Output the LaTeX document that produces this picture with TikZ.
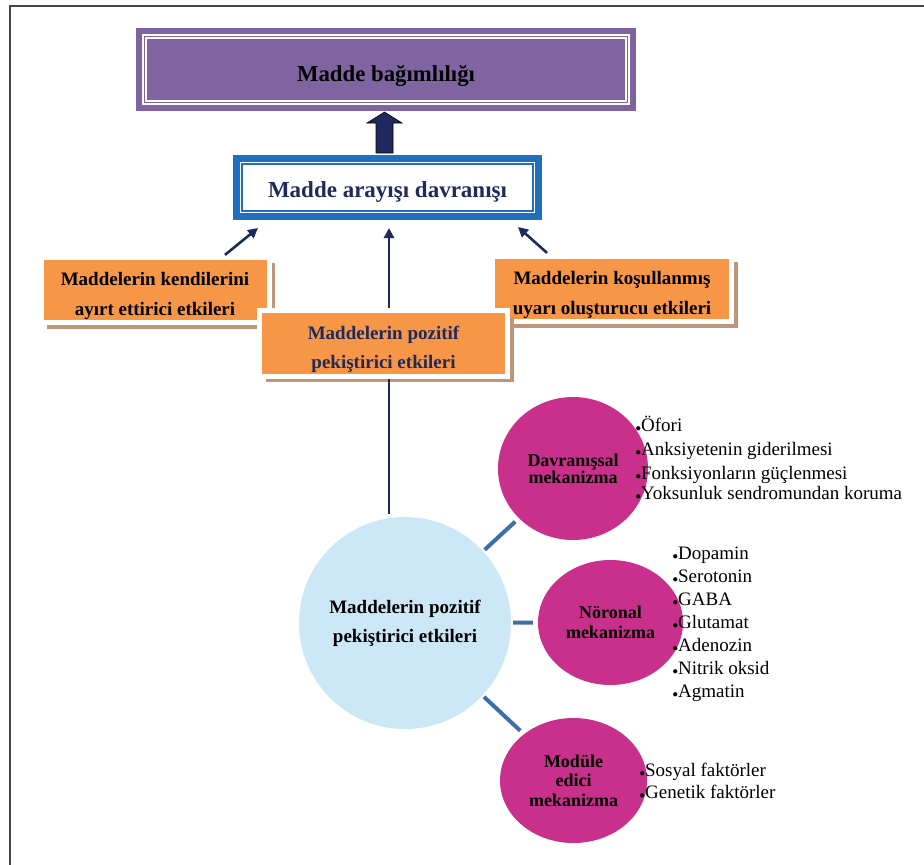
\documentclass[tikz,border=0pt]{standalone}
\usepackage{fontspec}
\setmainfont{Liberation Serif}
\usetikzlibrary{arrows.meta,shapes.geometric,shadows}

\definecolor{boxpurple}{RGB}{128,100,162}
\definecolor{boxblue}{RGB}{30,112,190}
\definecolor{navy}{RGB}{31,42,92}
\definecolor{boxorange}{RGB}{247,150,70}
\definecolor{shadowtan}{RGB}{192,150,120}
\definecolor{circleblue}{RGB}{204,232,246}
\definecolor{mechmagenta}{RGB}{200,48,140}
\definecolor{linkblue}{RGB}{62,110,168}
\definecolor{framegray}{RGB}{70,70,70}

\newcommand{\blt}{{\fontsize{11pt}{11pt}\selectfont$\bullet$}}
\newcommand{\topstrut}{\rule{0pt}{25pt}}

\begin{document}
\begin{tikzpicture}[x=1pt, y=-1pt,
    mainbox/.style={fill=boxpurple, minimum width=500pt, minimum height=83pt, font=\bfseries\fontsize{22.8pt}{26pt}\selectfont, text height=24pt, text depth=0pt,
        path picture={\draw[white, line width=1.6pt, double=boxpurple, double distance=1.2pt] ([shift={(8.5pt,-8.5pt)}]path picture bounding box.north west) rectangle ([shift={(-8.5pt,8.5pt)}]path picture bounding box.south east);}},
    seekbox/.style={draw=boxblue, line width=7pt, fill=white, minimum width=302pt, minimum height=58pt, text=navy, font=\bfseries\fontsize{23pt}{27pt}\selectfont, text height=19pt, text depth=0pt,
        path picture={\draw[boxblue, line width=1.3pt] ([shift={(5.5pt,-5.5pt)}]path picture bounding box.north west) rectangle ([shift={(-5.5pt,5.5pt)}]path picture bounding box.south east);}},
    effectbox/.style={fill=boxorange, draw=white, line width=5pt, align=center, font=\bfseries\fontsize{19pt}{29.5pt}\selectfont,
        drop shadow={shadow xshift=6pt, shadow yshift=-6pt, fill=shadowtan, opacity=1}},
    posnode/.style={circle, fill=circleblue, minimum size=212pt, align=center, font=\bfseries\fontsize{19pt}{29pt}\selectfont},
    mech/.style={ellipse, fill=mechmagenta, inner sep=0pt, align=center, font=\bfseries\fontsize{18pt}{19.5pt}\selectfont},
    item/.style={anchor=base west, inner sep=0pt, font=\fontsize{19pt}{22pt}\selectfont},
    arr/.style={draw=navy, line width=2.6pt, -{Triangle[length=10pt,width=10pt]}},
    stem/.style={draw=navy, line width=2.6pt},
    link/.style={draw=linkblue, line width=4pt, shorten <=2pt, shorten >=5pt}]
    \useasboundingbox (0,0) rectangle (924,865);
    \draw[framegray, line width=2pt] (10,865) -- (10,5.5) -- (924,5.5);

    \node[mainbox] (addict) at (386,69.5) {Madde bağımlılığı};
    \fill[navy, draw=black, line width=0.6pt] (376,153) -- (376,123) -- (367,123) -- (384.5,112) -- (402,123) -- (393,123) -- (393,153) -- cycle;
    \node[seekbox] (seek) at (387.5,187.5) {Madde arayışı davranışı};

    \node[effectbox, minimum width=228pt, minimum height=65pt] (kend) at (155,290) {\topstrut Maddelerin kendilerini\\ayırt ettirici etkileri};
    \node[effectbox, minimum width=239pt, minimum height=65pt] (kosul) at (612,289) {\topstrut Maddelerin koşullanmış\\uyarı oluşturucu etkileri};
    \node[effectbox, minimum width=248pt, minimum height=64pt, text=navy] (poz) at (383.5,343.5) {\topstrut Maddelerin pozitif\\pekiştirici etkileri};

    \coordinate (spine) at (389,514);
    \draw[arr, shorten >=8pt] (spine |- poz.north) -- (spine |- seek.south);
    \draw[arr] ([shift={(-46.5pt,0pt)}]kend.north east) -- ([shift={(25pt,-8pt)}]seek.south west);
    \draw[arr] ([shift={(57pt,1pt)}]kosul.north west) -- ([shift={(-24pt,-7pt)}]seek.south east);
    \draw[stem] (spine |- poz.south) -- (spine);

    \node[posnode] (pos) at (405,623) {Maddelerin pozitif\\pekiştirici etkileri};
    \node[mech, minimum width=150pt, minimum height=143pt, font=\bfseries\fontsize{18pt}{16pt}\selectfont] (dav) at (573,468.5) {Davranışsal\\mekanizma};
    \node[mech, minimum width=145pt, minimum height=125pt] (nor) at (610.5,622.5) {Nöronal\\mekanizma};
    \node[mech, minimum width=147pt, minimum height=125pt] (mod) at (573.5,780.5) {Modüle\\edici\\mekanizma};

    \draw[link] (pos) -- (dav);
    \draw[link] (pos) -- (nor);
    \draw[link] (pos) -- (mod);

    \foreach \txt/\yy [count=\i] in {Öfori/431, Anksiyetenin giderilmesi/455, Fonksiyonların güçlenmesi/479, Yoksunluk sendromundan koruma/499}
        \node[item] (davitem\i) at (635.5,\yy) {\blt\txt};
    \foreach \txt [count=\i] in {Dopamin, Serotonin, GABA, Glutamat, Adenozin, Nitrik oksid, Agmatin}
        \node[item] (noritem\i) at (672.5,{559+23*(\i-1)}) {\blt\txt};
    \foreach \txt/\yy [count=\i] in {Sosyal faktörler/776, Genetik faktörler/798}
        \node[item] (moditem\i) at (639.5,\yy) {\blt\txt};
\end{tikzpicture}
\end{document}
